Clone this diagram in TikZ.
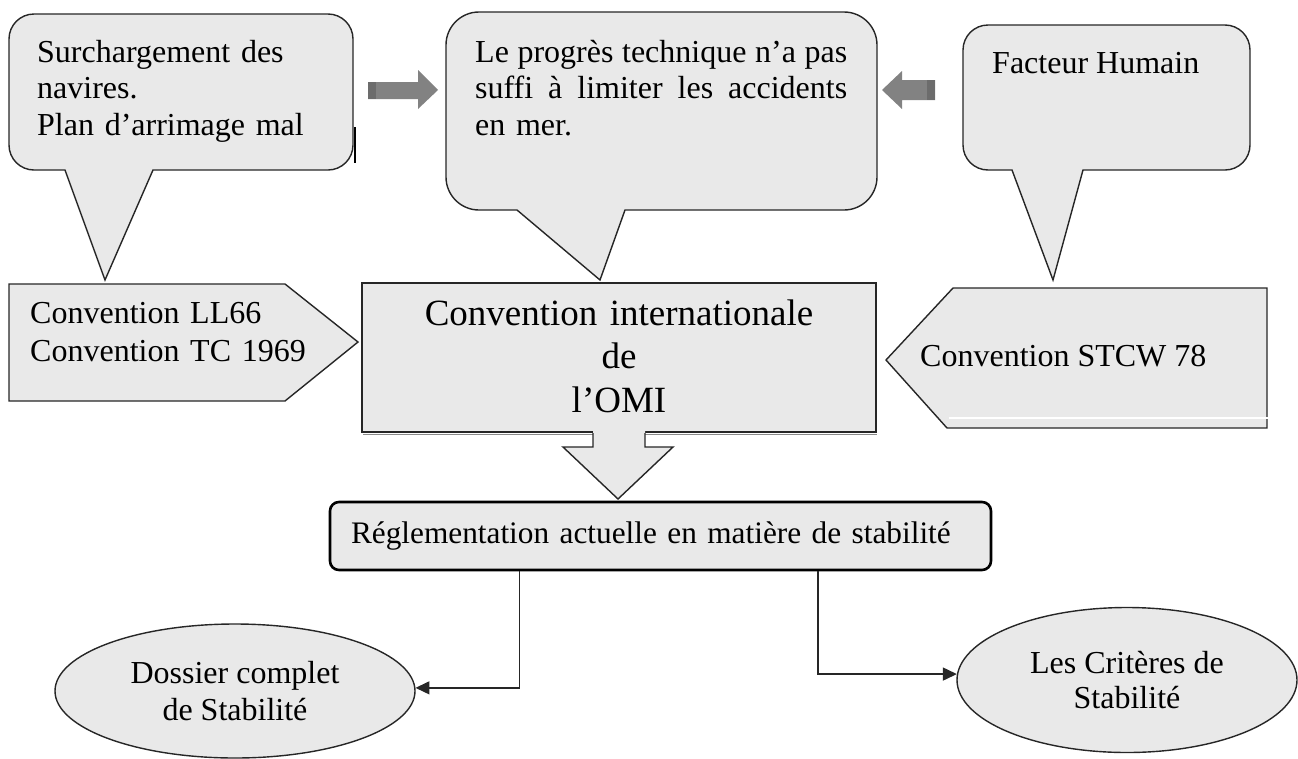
\documentclass[tikz,border=0pt]{standalone}
\usepackage{fontspec}
\setmainfont{Liberation Serif}
\usetikzlibrary{arrows.meta,calc,shapes.geometric}
\definecolor{boxfill}{HTML}{E9E9E9}
\definecolor{edge}{HTML}{262626}
\definecolor{blockgray}{HTML}{828282}
\definecolor{blockdark}{HTML}{6C6C6C}
\definecolor{shadowgray}{HTML}{8A8A8A}
% a line of text spread evenly over a given width
\newcommand{\spreadline}[2]{\leavevmode\hbox to #1{\spaceskip=3pt plus 1fil\relax #2}}

\begin{document}
\begin{tikzpicture}[x=1pt,y=-1pt,
  outline/.style={fill=boxfill,draw=edge,line width=1.4pt,line join=miter},
  body/.style={font=\fontsize{32}{36.5}\selectfont,inner sep=0pt,anchor=base west},
  big/.style={font=\fontsize{37}{43.5}\selectfont,inner sep=0pt,anchor=base,align=center},
  oval/.style={ellipse,draw=edge,fill=boxfill,line width=1.4pt,inner sep=0pt,align=center},
  link/.style={draw=edge,line width=1.5pt,-{Triangle[length=14pt,width=13pt]}},
  blockarrow/.style={fill=blockgray,draw=none},
]
\useasboundingbox (0,0) rectangle (1298,758);

% ---- speech bubbles (rounded box with a pointer underneath) ----
\path[outline] (65,170) -- (34,170) arc[start angle=90,end angle=180,radius=25]
  -- (9,39) arc[start angle=180,end angle=270,radius=25]
  -- (328,14) arc[start angle=270,end angle=360,radius=25]
  -- (353,145) arc[start angle=0,end angle=90,radius=25]
  -- (153,170) -- (105,280) -- cycle;
\draw[black,line width=2pt] (354.5,127) -- (354.5,163);

\path[outline] (517,210) -- (479,210) arc[start angle=90,end angle=180,radius=33]
  -- (446,45) arc[start angle=180,end angle=270,radius=33]
  -- (844,12) arc[start angle=270,end angle=360,radius=33]
  -- (877,177) arc[start angle=0,end angle=90,radius=33]
  -- (625,210) -- (600,280) -- cycle;

\path[outline] (1012,170) -- (988,170) arc[start angle=90,end angle=180,radius=25]
  -- (963,50) arc[start angle=180,end angle=270,radius=25]
  -- (1225,25) arc[start angle=270,end angle=360,radius=25]
  -- (1250,145) arc[start angle=0,end angle=90,radius=25]
  -- (1083,170) -- (1053,280) -- cycle;

% ---- grey block arrows between the bubbles ----
\path[blockarrow] (368,82) -- (418,82) -- (418,70) -- (438,90) -- (418,109)
  -- (418,99) -- (368,99) -- cycle;
\fill[blockdark] (368,82) rectangle (376,99);
\path[blockarrow] (882,90) -- (902,71) -- (902,80) -- (935,80) -- (935,100)
  -- (902,100) -- (902,109) -- cycle;
\fill[blockdark] (927,80) rectangle (935,100);

% ---- bubble texts ----
\node[body,text width=320pt,align=left] (surch) at (37,62)
  {Surchargement des\\navires.\\Plan d’arrimage mal};
\node[body,text width=372pt,align=left] (progres) at (475,62)
  {\spreadline{372pt}{Le progrès technique n’a pas}\\
   \spreadline{372pt}{suffi à limiter les accidents}\\
   en mer.};
\node[body] (facteur) at (992,73) {Facteur Humain};

% ---- pentagon signs and the central box ----
\path[outline] (9,284) -- (285,284) -- (358,342) -- (285,401) -- (9,401) -- cycle;
\path[outline] (953,288) -- (1267,288) -- (1267,428) -- (947,428) -- (886,360) -- cycle;
\draw[white,line width=1.6pt] (949,418) -- (1271,418);

\path[outline] (362,283) rectangle (876,432);
\draw[shadowgray,line width=1.6pt] (363,434.5) -- (877,434.5);

% downward block arrow from the central box
\fill[boxfill] (593,430) -- (593,447) -- (563,447) -- (618,499) -- (673,447)
  -- (645,447) -- (645,430) -- cycle;
\draw[edge,line width=1.4pt,line join=miter] (593,433) -- (593,447) -- (563,447)
  -- (618,499) -- (673,447) -- (645,447) -- (645,433);

\node[body,text width=320pt,align=left,font=\fontsize{32}{38}\selectfont] (ll66) at (30,323)
  {Convention LL66\\Convention TC 1969};
\node[body] (stcw) at (920,366) {Convention STCW 78};
\node[big,text width=500pt] (omi) at (619,325)
  {Convention internationale\\de\\l’OMI};

% ---- regulation box and the two results ----
\node[draw=black,fill=boxfill,line width=2.6pt,rounded corners=9pt,
  minimum width=661pt,minimum height=68pt,inner xsep=21pt,inner ysep=0pt,
  text width=619pt,align=left,font=\fontsize{31.3}{37}\selectfont] (regl) at (660.5,536)
  {Réglementation actuelle en matière de stabilité};

\node[oval,minimum width=360pt,minimum height=134pt,
  font=\fontsize{32}{37.5}\selectfont] (dossier) at (235,691)
  {Dossier complet\\de Stabilité};
\node[oval,minimum width=340pt,minimum height=145pt,
  font=\fontsize{32}{35}\selectfont] (criteres) at (1127,680)
  {Les Critères de\\Stabilité};

\draw[link] ($(regl.south west)!0.2874!(regl.south east)$) |- (dossier.1);
\draw[link] ($(regl.south west)!0.737!(regl.south east)$) |- (criteres.178);
\end{tikzpicture}
\end{document}
